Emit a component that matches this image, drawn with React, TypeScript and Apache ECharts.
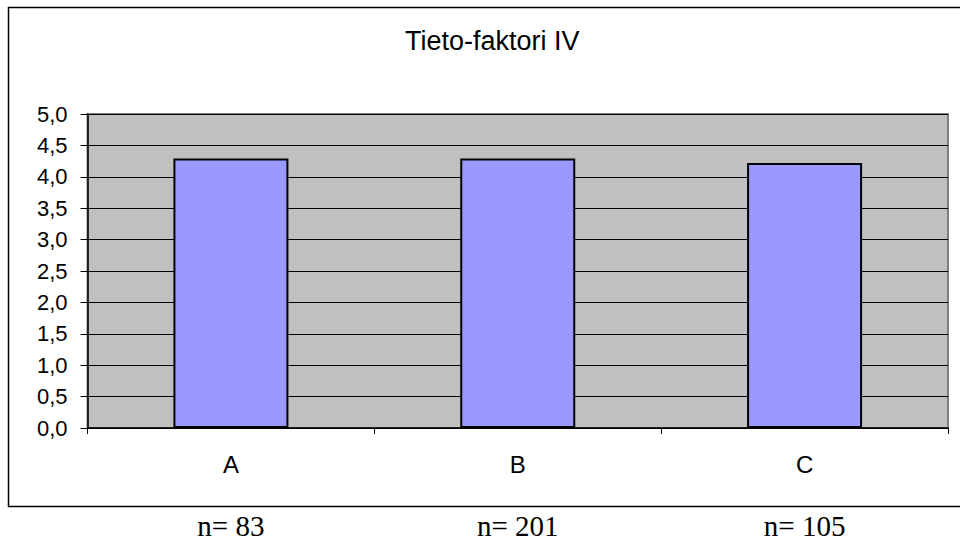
import React, { useEffect, useRef } from "react";
import * as echarts from "echarts";

const categories = ["A", "B", "C"];
const values = [4.29, 4.29, 4.22];
const sampleSizes = ["n= 83", "n= 201", "n= 105"];
const titleText = "Tieto-faktori IV";

export default function App() {
  const ref = useRef<HTMLDivElement>(null);
  useEffect(() => {
    if (!ref.current) return;
    const chart = echarts.init(ref.current, undefined, { renderer: "svg" });
    chart.setOption({
      animation: false,
      backgroundColor: "#ffffff",
      title: {
        text: titleText,
        left: 400,
        top: 22,
        textStyle: { fontFamily: "Liberation Sans", fontSize: 27, fontWeight: "normal", color: "#000" },
      },
      graphic: [
        {
          type: "rect",
          shape: { x: 8.5, y: 7.5, width: 970, height: 499 },
          style: { fill: "none", stroke: "#000", lineWidth: 1.5 },
          silent: true,
          z: -1,
        },
      ],
      grid: {
        left: 87.5,
        top: 114,
        right: 12,
        bottom: 112,
        show: true,
        backgroundColor: "#c0c0c0",
        borderColor: "#808080",
        borderWidth: 2,
      },
      xAxis: [
        {
          type: "category",
          data: categories,
          position: "bottom",
          axisLine: { show: true, lineStyle: { color: "#000", width: 1.5 } },
          axisTick: { show: true, interval: 0, length: 6, lineStyle: { color: "#000" } },
          axisLabel: { margin: 24, fontFamily: "Liberation Sans", fontSize: 24, color: "#000" },
          splitLine: { show: false },
        },
        {
          type: "category",
          data: sampleSizes,
          position: "bottom",
          axisLine: { show: false },
          axisTick: { show: false },
          axisLabel: { margin: 83, fontFamily: "Liberation Serif", fontSize: 29, color: "#000" },
          splitLine: { show: false },
        },
      ],
      yAxis: {
        type: "value",
        min: 0,
        max: 5,
        interval: 0.5,
        axisLine: { show: true, lineStyle: { color: "#000", width: 1.5 } },
        axisTick: { show: true, length: 7, lineStyle: { color: "#000" } },
        axisLabel: {
          margin: 20,
          fontFamily: "Liberation Sans",
          fontSize: 22,
          color: "#000",
          formatter: (v: number) => v.toFixed(1).replace(".", ","),
        },
        splitLine: { show: true, lineStyle: { color: "#000", width: 1 } },
      },
      series: [
        {
          type: "bar",
          data: values,
          xAxisIndex: 0,
          barWidth: 115,
          itemStyle: { color: "#9999ff", borderColor: "#000", borderWidth: 2 },
        },
      ],
    });
    return () => chart.dispose();
  }, []);
  return <div ref={ref} style={{ width: 960, height: 540, position: "absolute", left: 0, top: 0 }} />;
}
